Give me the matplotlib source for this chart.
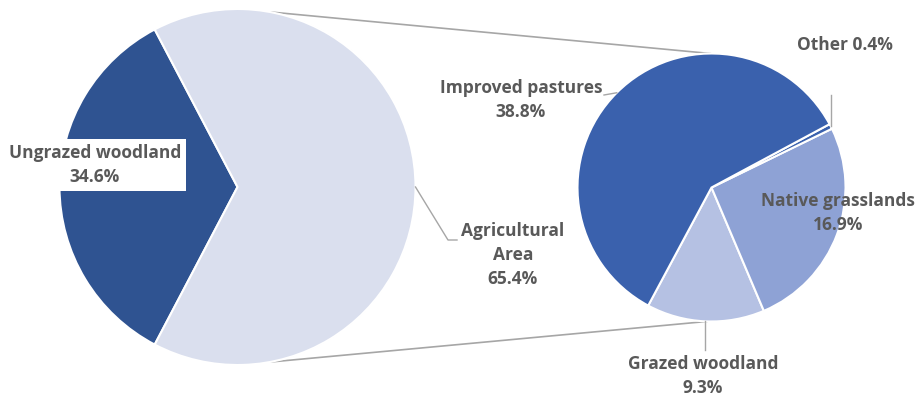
import numpy as np
import matplotlib
matplotlib.use("Agg")
import matplotlib.pyplot as plt

# land use split: total area, then the agricultural share broken down
main_labels = ["Ungrazed woodland", "Agricultural\nArea"]
main_values = [34.6, 65.4]
main_colors = ["#2F5391", "#DADFEE"]

sub_labels = ["Grazed woodland", "Native grasslands", "Other", "Improved pastures"]
sub_values = [9.3, 16.9, 0.4, 38.8]
sub_colors = ["#B5C1E3", "#8EA2D5", "#3A61AD", "#3A61AD"]

H = 397
txt = "#595959"
plt.rcParams["font.family"] = ["Open Sans", "DejaVu Sans"]

fig = plt.figure(figsize=(9.2, 3.97), dpi=100)
ax = fig.add_axes([0, 0, 1, 1])
ax.set_xlim(0, 920)
ax.set_ylim(0, H)
ax.set_aspect("equal")
ax.axis("off")

c1, r1 = (237.5, H - 187), 178
c2, r2 = (711.5, H - 187.5), 134

start1 = 180 - main_values[0] / 100 * 360 / 2
w1, _ = ax.pie(main_values, colors=main_colors, center=c1, radius=r1,
               startangle=start1, counterclock=True, frame=True,
               wedgeprops=dict(edgecolor="white", linewidth=1.5))

sub_total = sum(sub_values)
start2 = -118.2
w2, _ = ax.pie(sub_values, colors=sub_colors, center=c2, radius=r2,
               startangle=start2, counterclock=True, frame=True,
               wedgeprops=dict(edgecolor="white", linewidth=1.5))
ax.set_xlim(0, 920)
ax.set_ylim(0, H)
ax.axis("off")


def edge(c, r, ang):
    a = np.deg2rad(ang)
    return c[0] + r * np.cos(a), c[1] + r * np.sin(a)


# connectors between the two pies
for a1, a2 in [(79.6, 90.5), (-79.6, -91.9)]:
    p, q = edge(c1, r1, a1), edge(c2, r2, a2)
    ax.plot([p[0], q[0]], [p[1], q[1]], color="#A6A6A6", lw=1.2, zorder=0)


def mid(w):
    return (w.theta1 + w.theta2) / 2


fs = 12.5
kw = dict(color=txt, fontsize=fs, fontweight="bold", ha="center", va="center",
          linespacing=1.45)
lc = "#A6A6A6"

# Ungrazed woodland, label in a white box
ax.text(95, H - 165, f"{main_labels[0]}\n{main_values[0]}%",
        bbox=dict(boxstyle="square,pad=0.3", fc="white", ec="none"), **kw)

# Agricultural Area
p = edge(c1, r1, mid(w1[1]))
ax.plot([p[0], 448, 457], [p[1], H - 240, H - 240], color=lc, lw=1)
ax.text(513, H - 255, f"{main_labels[1]}\n{main_values[1]}%", **kw)

# Improved pastures
p = edge(c2, r2, mid(w2[3]))
ax.plot([p[0], 604], [p[1], H - 95], color=lc, lw=1)
ax.text(521, H - 100, f"{sub_labels[3]}\n{sub_values[3]}%", **kw)

# Other
p = edge(c2, r2, mid(w2[2]))
ax.plot([p[0], p[0]], [p[1], H - 95], color=lc, lw=1)
ax.text(845, H - 45, f"{sub_labels[2]} {sub_values[2]}%", **kw)

# Native grasslands
ax.text(838, H - 213, f"{sub_labels[1]}\n{sub_values[1]}%", **kw)

# Grazed woodland
p = edge(c2, r2, mid(w2[0]))
ax.plot([p[0], p[0]], [p[1], H - 350], color=lc, lw=1)
ax.text(703, H - 376, f"{sub_labels[0]}\n{sub_values[0]}%", **kw)

fig.savefig("out.png", dpi=100)
